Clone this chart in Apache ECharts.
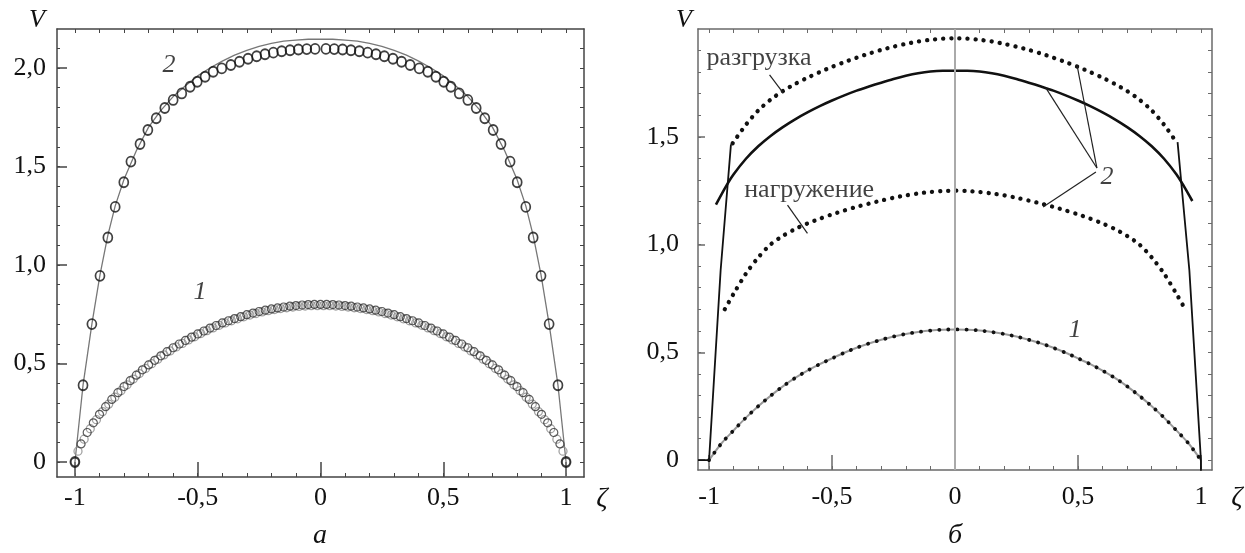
<!DOCTYPE html>
<html>
<head>
<meta charset="utf-8">
<script src="https://cdn.jsdelivr.net/npm/echarts@6/dist/echarts.min.js"></script>
<style>
html,body{margin:0;padding:0;background:#fff;}
#main{width:1245px;height:553px;}
</style>
</head>
<body>
<div id="main"></div>
<script>
// ticks
const majorX = [-1, -0.5, 0, 0.5, 1];
const minorX = [-1, -0.9, -0.8, -0.7, -0.6, -0.5, -0.4, -0.3, -0.2, -0.1, 0, 0.1, 0.2, 0.3, 0.4, 0.5, 0.6, 0.7, 0.8, 0.9, 1];
const majorYA = [0, 0.5, 1, 1.5, 2];
const minorYA = [0, 0.1, 0.2, 0.3, 0.4, 0.5, 0.6, 0.7, 0.8, 0.9, 1, 1.1, 1.2, 1.3, 1.4, 1.5, 1.6, 1.7, 1.8, 1.9, 2, 2.1];
const majorYB = [0, 0.5, 1, 1.5];
const minorYB = [0, 0.1, 0.2, 0.3, 0.4, 0.5, 0.6, 0.7, 0.8, 0.9, 1, 1.1, 1.2, 1.3, 1.4, 1.5, 1.6, 1.7, 1.8, 1.9];

// панель а: кривая 2 (кружки)
const zetaA2 = [-1, -0.967, -0.931, -0.898, -0.866, -0.836, -0.801, -0.772, -0.735, -0.703,
  -0.669, -0.634, -0.6, -0.565, -0.531, -0.502, -0.47, -0.437, -0.402, -0.365,
  -0.33, -0.295, -0.26, -0.226, -0.192, -0.158, -0.124, -0.09, -0.056, -0.022,
  0.022, 0.056, 0.09, 0.124, 0.158, 0.192, 0.226, 0.26, 0.295, 0.33,
  0.365, 0.402, 0.437, 0.47, 0.502, 0.531, 0.565, 0.6, 0.634, 0.669,
  0.703, 0.735, 0.772, 0.801, 0.836, 0.866, 0.898, 0.931, 0.967, 1];
const vA2 = [0, 0.39, 0.70, 0.945, 1.14, 1.295, 1.42, 1.525, 1.614, 1.685,
  1.745, 1.797, 1.838, 1.871, 1.905, 1.93, 1.956, 1.981, 1.998, 2.015,
  2.032, 2.047, 2.06, 2.07, 2.078, 2.085, 2.09, 2.094, 2.096, 2.097,
  2.097, 2.096, 2.094, 2.09, 2.085, 2.078, 2.07, 2.06, 2.047, 2.032,
  2.015, 1.998, 1.981, 1.956, 1.93, 1.905, 1.871, 1.838, 1.797, 1.745,
  1.685, 1.614, 1.525, 1.42, 1.295, 1.14, 0.945, 0.70, 0.39, 0];
// панель а: кривая 2 (линия)
const zetaA2Line = [-1, -1, -0.967, -0.931, -0.898, -0.866, -0.836, -0.8, -0.75, -0.7,
  -0.65, -0.6, -0.55, -0.5, -0.45, -0.4, -0.35, -0.3, -0.25, -0.2,
  -0.15, -0.1, -0.05, 0, 0.05, 0.1, 0.15,
  0.2, 0.25, 0.3, 0.35, 0.4, 0.45, 0.5, 0.55, 0.6, 0.65,
  0.7, 0.75, 0.8, 0.836, 0.866, 0.898, 0.931, 0.967, 1, 1];
const vA2Line = [-0.1, 0, 0.39, 0.70, 0.95, 1.15, 1.30, 1.435, 1.58, 1.70,
  1.785, 1.855, 1.91, 1.96, 2.0, 2.035, 2.065, 2.09, 2.11, 2.125,
  2.136, 2.142, 2.146, 2.147, 2.146, 2.142, 2.136,
  2.125, 2.11, 2.09, 2.065, 2.035, 2.0, 1.96, 1.91, 1.855, 1.785,
  1.70, 1.58, 1.435, 1.30, 1.15, 0.95, 0.70, 0.39, 0, -0.1];
// панель а: кривая 1 (два плотных набора кружков)
const zetaA1Black = [-1, -0.975, -0.95, -0.925, -0.9, -0.875, -0.85, -0.825, -0.8, -0.775,
  -0.75, -0.725, -0.7, -0.675, -0.65, -0.625, -0.6, -0.575, -0.55, -0.525,
  -0.5, -0.475, -0.45, -0.425, -0.4, -0.375, -0.35, -0.325, -0.3, -0.275,
  -0.25, -0.225, -0.2, -0.175, -0.15, -0.125, -0.1, -0.075, -0.05, -0.025,
  0,
  0.025, 0.05, 0.075, 0.1, 0.125, 0.15, 0.175, 0.2, 0.225, 0.25,
  0.275, 0.3, 0.325, 0.35, 0.375, 0.4, 0.425, 0.45, 0.475, 0.5,
  0.525, 0.55, 0.575, 0.6, 0.625, 0.65, 0.675, 0.7, 0.725, 0.75,
  0.775, 0.8, 0.825, 0.85, 0.875, 0.9, 0.925, 0.95, 0.975, 1];
const vA1Black = [0, 0.092, 0.150, 0.199, 0.242, 0.281, 0.318, 0.352, 0.383, 0.413,
  0.441, 0.468, 0.493, 0.516, 0.539, 0.560, 0.580, 0.599, 0.617, 0.634,
  0.650, 0.665, 0.680, 0.693, 0.706, 0.717, 0.728, 0.738, 0.748, 0.756,
  0.764, 0.771, 0.777, 0.782, 0.787, 0.791, 0.794, 0.797, 0.799, 0.800,
  0.800,
  0.800, 0.799, 0.797, 0.794, 0.791, 0.787, 0.782, 0.777, 0.771, 0.764,
  0.756, 0.748, 0.738, 0.728, 0.717, 0.706, 0.693, 0.680, 0.665, 0.650,
  0.634, 0.617, 0.599, 0.580, 0.560, 0.539, 0.516, 0.493, 0.468, 0.441,
  0.413, 0.383, 0.352, 0.318, 0.281, 0.242, 0.199, 0.150, 0.092, 0];
const zetaA1Gray = [-0.9875, -0.9625, -0.9375, -0.9125, -0.8875, -0.8625, -0.8375, -0.8125, -0.7875, -0.7625,
  -0.7375, -0.7125, -0.6875, -0.6625, -0.6375, -0.6125, -0.5875, -0.5625, -0.5375, -0.5125,
  -0.4875, -0.4625, -0.4375, -0.4125, -0.3875, -0.3625, -0.3375, -0.3125, -0.2875, -0.2625,
  -0.2375, -0.2125, -0.1875, -0.1625, -0.1375, -0.1125, -0.0875, -0.0625, -0.0375, -0.0125,
  0.0125, 0.0375, 0.0625, 0.0875, 0.1125, 0.1375, 0.1625, 0.1875, 0.2125, 0.2375,
  0.2625, 0.2875, 0.3125, 0.3375, 0.3625, 0.3875, 0.4125, 0.4375, 0.4625, 0.4875,
  0.5125, 0.5375, 0.5625, 0.5875, 0.6125, 0.6375, 0.6625, 0.6875, 0.7125, 0.7375,
  0.7625, 0.7875, 0.8125, 0.8375, 0.8625, 0.8875, 0.9125, 0.9375, 0.9625, 0.9875];
const vA1Gray = [0.055, 0.116, 0.169, 0.215, 0.256, 0.294, 0.329, 0.362, 0.392, 0.421,
  0.449, 0.475, 0.499, 0.522, 0.544, 0.564, 0.584, 0.602, 0.620, 0.636,
  0.652, 0.667, 0.681, 0.694, 0.706, 0.717, 0.727, 0.737, 0.746, 0.754,
  0.762, 0.768, 0.774, 0.779, 0.783, 0.787, 0.790, 0.792, 0.794, 0.794,
  0.794, 0.794, 0.792, 0.790, 0.787, 0.783, 0.779, 0.774, 0.768, 0.762,
  0.754, 0.746, 0.737, 0.727, 0.717, 0.706, 0.694, 0.681, 0.667, 0.652,
  0.636, 0.620, 0.602, 0.584, 0.564, 0.544, 0.522, 0.499, 0.475, 0.449,
  0.421, 0.392, 0.362, 0.329, 0.294, 0.256, 0.215, 0.169, 0.116, 0.055];

// панель б: разгрузка (точки)
const zetaUnload = [-0.904, -0.85, -0.8, -0.75, -0.7, -0.65, -0.6, -0.55, -0.5, -0.45,
  -0.4, -0.35, -0.3, -0.25, -0.2, -0.15, -0.1, -0.05, 0,
  0.05, 0.1, 0.15, 0.2, 0.25, 0.3, 0.35, 0.4, 0.45, 0.5,
  0.55, 0.6, 0.65, 0.7, 0.75, 0.8, 0.85, 0.9];
const vUnload = [1.47, 1.556, 1.622, 1.672, 1.712, 1.745, 1.774, 1.80, 1.824, 1.846,
  1.867, 1.886, 1.903, 1.918, 1.931, 1.942, 1.950, 1.955, 1.957,
  1.955, 1.950, 1.942, 1.931, 1.918, 1.903, 1.886, 1.867, 1.846, 1.824,
  1.80, 1.774, 1.745, 1.712, 1.672, 1.622, 1.556, 1.475];
// панель б: нагружение (точки)
const zetaLoad = [-0.936, -0.9, -0.85, -0.8, -0.75, -0.7, -0.65, -0.6, -0.55, -0.5,
  -0.45, -0.4, -0.35, -0.3, -0.25, -0.2, -0.15, -0.1, -0.05, 0,
  0.05, 0.1, 0.15, 0.2, 0.25, 0.3, 0.35, 0.4, 0.45, 0.5,
  0.55, 0.6, 0.65, 0.7, 0.75, 0.8, 0.85, 0.9, 0.936];
const vLoad = [0.70, 0.772, 0.865, 0.94, 1.0, 1.04, 1.072, 1.098, 1.12, 1.14,
  1.158, 1.175, 1.19, 1.204, 1.217, 1.228, 1.237, 1.244, 1.248, 1.25,
  1.248, 1.244, 1.237, 1.228, 1.217, 1.204, 1.19, 1.175, 1.158, 1.14,
  1.12, 1.098, 1.072, 1.04, 1.0, 0.94, 0.865, 0.772, 0.70];
// панель б: кривая 1
const zetaB1 = [-1, -0.95, -0.9, -0.85, -0.8, -0.75, -0.7, -0.65, -0.6, -0.55,
  -0.5, -0.45, -0.4, -0.35, -0.3, -0.25, -0.2, -0.15, -0.1, -0.05, 0,
  0.05, 0.1, 0.15, 0.2, 0.25, 0.3, 0.35, 0.4, 0.45, 0.5,
  0.55, 0.6, 0.65, 0.7, 0.75, 0.8, 0.85, 0.9, 0.95, 1];
const vB1 = [0, 0.077, 0.138, 0.197, 0.25, 0.298, 0.342, 0.381, 0.415, 0.445,
  0.472, 0.498, 0.521, 0.541, 0.558, 0.573, 0.585, 0.594, 0.601, 0.605, 0.606,
  0.605, 0.601, 0.594, 0.585, 0.573, 0.558, 0.541, 0.521, 0.498, 0.472,
  0.445, 0.415, 0.381, 0.342, 0.298, 0.25, 0.197, 0.138, 0.077, 0];
// панель б: кривая 2 (сплошная)
const zetaB2 = [-0.972, -0.93, -0.9, -0.85, -0.8, -0.75, -0.7, -0.65, -0.6, -0.55,
  -0.5, -0.45, -0.4, -0.35, -0.3, -0.25, -0.2, -0.15, -0.1, -0.05, 0,
  0.05, 0.1, 0.15, 0.2, 0.25, 0.3, 0.35, 0.4, 0.45, 0.5,
  0.55, 0.6, 0.65, 0.7, 0.75, 0.8, 0.85, 0.9, 0.93, 0.965];
const vB2 = [1.185, 1.272, 1.326, 1.398, 1.456, 1.504, 1.545, 1.581, 1.613, 1.642,
  1.668, 1.692, 1.714, 1.733, 1.751, 1.768, 1.783, 1.795, 1.803, 1.806, 1.806,
  1.806, 1.803, 1.795, 1.783, 1.768, 1.751, 1.733, 1.714, 1.692, 1.668,
  1.642, 1.613, 1.581, 1.545, 1.504, 1.456, 1.398, 1.326, 1.272, 1.202];
// панель б: крутые участки у стенок
const zetaSteepL = [-1.045, -1, -0.953, -0.911];
const vSteepL = [0, 0, 0.88, 1.465];
const zetaSteepR = [0.905, 0.953, 1.0, 1.0];
const vSteepR = [1.475, 0.88, 0, -0.05];

// подписи и выноски (в координатах данных)
const textA = ['2', '1'];
const textAPos = [[-0.617, 2.015], [-0.491, 0.863]];
const textB = ['разгрузка', 'нагружение', '2', '1'];
const textBPos = [[-0.797, 1.865], [-0.593, 1.253], [0.618, 1.313], [0.488, 0.603]];
const leadersB = [
  [[-0.754, 1.787], [-0.698, 1.702]],
  [[-0.681, 1.183], [-0.600, 1.052]],
  [[0.577, 1.355], [0.370, 1.726]],
  [[0.577, 1.355], [0.496, 1.833]],
  [[0.573, 1.336], [0.358, 1.174]]
];

const serif = 'Liberation Serif';
const ink = '#111';
const pair = (xs, ys) => xs.map((x, i) => [x, ys[i]]);
const fmtX = v => String(v).replace('.', ',');
const fmtY = v => v === 0 ? '0' : v.toFixed(1).replace('.', ',');

function xAxes(g, range, frame, labelGap) {
  const base = { type: 'value', gridIndex: g, min: range[0], max: range[1], splitLine: { show: false } };
  return [
    Object.assign({}, base, {
      position: 'bottom',
      axisLine: { onZero: false, lineStyle: { color: frame, width: 1.5 } },
      axisTick: { inside: true, length: 15, customValues: majorX, lineStyle: { color: frame, width: 1.5 } },
      axisLabel: { customValues: majorX, formatter: fmtX, margin: labelGap, fontFamily: serif, fontSize: 26, color: ink }
    }),
    Object.assign({}, base, {
      position: 'bottom',
      axisLine: { show: false, onZero: false },
      axisTick: { inside: true, length: 4, customValues: minorX, lineStyle: { color: frame, width: 1 } },
      axisLabel: { show: false }
    }),
    Object.assign({}, base, {
      position: 'top',
      axisLine: { onZero: false, lineStyle: { color: frame, width: 1.5 } },
      axisTick: { inside: true, length: 4, customValues: minorX, lineStyle: { color: frame, width: 1 } },
      axisLabel: { show: false }
    })
  ];
}

function yAxes(g, range, frame, major, minor, majorLen, labelGap) {
  const base = { type: 'value', gridIndex: g, min: range[0], max: range[1], splitLine: { show: false } };
  return [
    Object.assign({}, base, {
      position: 'left',
      axisLine: { onZero: false, lineStyle: { color: frame, width: 1.5 } },
      axisTick: { inside: true, length: majorLen, customValues: major, lineStyle: { color: frame, width: 1.5 } },
      axisLabel: { customValues: major, formatter: fmtY, margin: labelGap, fontFamily: serif, fontSize: 26, color: ink }
    }),
    Object.assign({}, base, {
      position: 'left',
      axisLine: { show: false, onZero: false },
      axisTick: { inside: true, length: 3, customValues: minor, lineStyle: { color: frame, width: 1 } },
      axisLabel: { show: false }
    }),
    Object.assign({}, base, {
      position: 'right',
      axisLine: { onZero: false, lineStyle: { color: frame, width: 1.5 } },
      axisTick: { inside: true, length: 4, customValues: minor, lineStyle: { color: frame, width: 1 } },
      axisLabel: { show: false }
    })
  ];
}

function textSeries(xi, yi, names, pos, extra) {
  return {
    type: 'scatter', xAxisIndex: xi, yAxisIndex: yi, symbolSize: 0.1, z: 10,
    itemStyle: { color: 'rgba(0,0,0,0)' },
    label: { show: true, position: 'inside', formatter: p => p.name,
      fontFamily: serif, fontSize: 26, fontStyle: 'italic', color: ink },
    data: names.map((n, i) => Object.assign({ name: n, value: pos[i] }, extra ? extra[i] : {}))
  };
}

const dotted = (w, gap) => ({ color: '#111', width: w, type: [0.1, gap], cap: 'round' });
const plain = { fontStyle: 'normal', fontSize: 26 };

const chart = echarts.init(document.getElementById('main'));

const option = {
  animation: false,
  backgroundColor: '#fff',
  grid: [
    { left: 57, top: 29, width: 527, height: 448 },
    { left: 698, top: 29, width: 514, height: 441 }
  ],
  xAxis: [].concat(
    xAxes(0, [-1.073, 1.073], '#444', 8),
    xAxes(1, [-1.045, 1.045], '#6a6a6a', 14)
  ),
  yAxis: [].concat(
    yAxes(0, [-0.076, 2.198], '#444', majorYA, minorYA, 10, 11),
    yAxes(1, [-0.046, 2.0], '#6a6a6a', majorYB, minorYB, 7, 19)
  ),
  series: [
    // ---- а ----
    { type: 'line', xAxisIndex: 0, yAxisIndex: 0, data: pair(zetaA2Line, vA2Line),
      symbol: 'none', lineStyle: { color: '#777', width: 1.3 }, z: 2 },
    { type: 'scatter', xAxisIndex: 0, yAxisIndex: 0, data: pair(zetaA1Gray, vA1Gray),
      symbol: 'circle', symbolSize: 8,
      itemStyle: { color: 'rgba(255,255,255,0)', borderColor: '#8c8c8c', borderWidth: 1.3 }, z: 3 },
    { type: 'scatter', xAxisIndex: 0, yAxisIndex: 0, data: pair(zetaA1Black, vA1Black),
      symbol: 'circle', symbolSize: 8,
      itemStyle: { color: 'rgba(255,255,255,0)', borderColor: '#333', borderWidth: 1.2 }, z: 4 },
    { type: 'scatter', xAxisIndex: 0, yAxisIndex: 0, data: pair(zetaA2, vA2),
      symbol: 'circle', symbolSize: [9, 10],
      itemStyle: { color: 'rgba(255,255,255,0)', borderColor: '#111', borderWidth: 1.8 }, z: 5 },
    textSeries(0, 0, textA, textAPos),
    // ---- б ----
    { type: 'line', xAxisIndex: 3, yAxisIndex: 3, data: pair(zetaB1, vB1),
      symbol: 'none', smooth: 0.3, lineStyle: { color: '#9a9a9a', width: 2 }, z: 2,
      markLine: { silent: true, symbol: ['none', 'none'], label: { show: false },
        lineStyle: { color: '#aaa', width: 2, type: 'solid' }, data: [{ xAxis: 0 }] } },
    { type: 'line', xAxisIndex: 3, yAxisIndex: 3, data: pair(zetaB1, vB1),
      symbol: 'none', smooth: 0.3, lineStyle: dotted(3.8, 9), z: 3 },
    { type: 'line', xAxisIndex: 3, yAxisIndex: 3, data: pair(zetaUnload, vUnload),
      symbol: 'none', smooth: 0.3, lineStyle: dotted(4.3, 8), z: 3 },
    { type: 'line', xAxisIndex: 3, yAxisIndex: 3, data: pair(zetaLoad, vLoad),
      symbol: 'none', smooth: 0.3, lineStyle: dotted(4.3, 8), z: 3 },
    { type: 'line', xAxisIndex: 3, yAxisIndex: 3, data: pair(zetaB2, vB2),
      symbol: 'none', smooth: 0.3, lineStyle: { color: '#111', width: 2.6 }, z: 4,
      markLine: { silent: true, symbol: ['none', 'none'], label: { show: false },
        lineStyle: { color: '#222', width: 1.2, type: 'solid' },
        data: leadersB.map(s => [{ coord: s[0] }, { coord: s[1] }]) } },
    { type: 'line', xAxisIndex: 3, yAxisIndex: 3, data: pair(zetaSteepL, vSteepL),
      symbol: 'none', lineStyle: { color: '#111', width: 1.8 }, z: 4 },
    { type: 'line', xAxisIndex: 3, yAxisIndex: 3, data: pair(zetaSteepR, vSteepR),
      symbol: 'none', lineStyle: { color: '#111', width: 1.8 }, z: 4 },
    textSeries(3, 3, textB, textBPos, [{ label: plain }, { label: plain }, {}, {}])
  ],
  graphic: [
    { type: 'text', x: 37, y: 20, style: { text: 'V', font: 'italic 26px "Liberation Serif"', fill: ink, align: 'center', verticalAlign: 'middle' } },
    { type: 'text', x: 684, y: 20, style: { text: 'V', font: 'italic 26px "Liberation Serif"', fill: ink, align: 'center', verticalAlign: 'middle' } },
    { type: 'text', x: 602, y: 499, style: { text: 'ζ', font: 'italic 28px "Liberation Serif"', fill: ink, align: 'center', verticalAlign: 'middle' } },
    { type: 'text', x: 1237, y: 498, style: { text: 'ζ', font: 'italic 28px "Liberation Serif"', fill: ink, align: 'center', verticalAlign: 'middle' } },
    { type: 'text', x: 320, y: 536, style: { text: 'а', font: 'italic 28px "Liberation Serif"', fill: ink, align: 'center', verticalAlign: 'middle' } },
    { type: 'text', x: 955, y: 536, style: { text: 'б', font: 'italic 28px "Liberation Serif"', fill: ink, align: 'center', verticalAlign: 'middle' } }
  ]
};

chart.setOption(option);
</script>
</body>
</html>
